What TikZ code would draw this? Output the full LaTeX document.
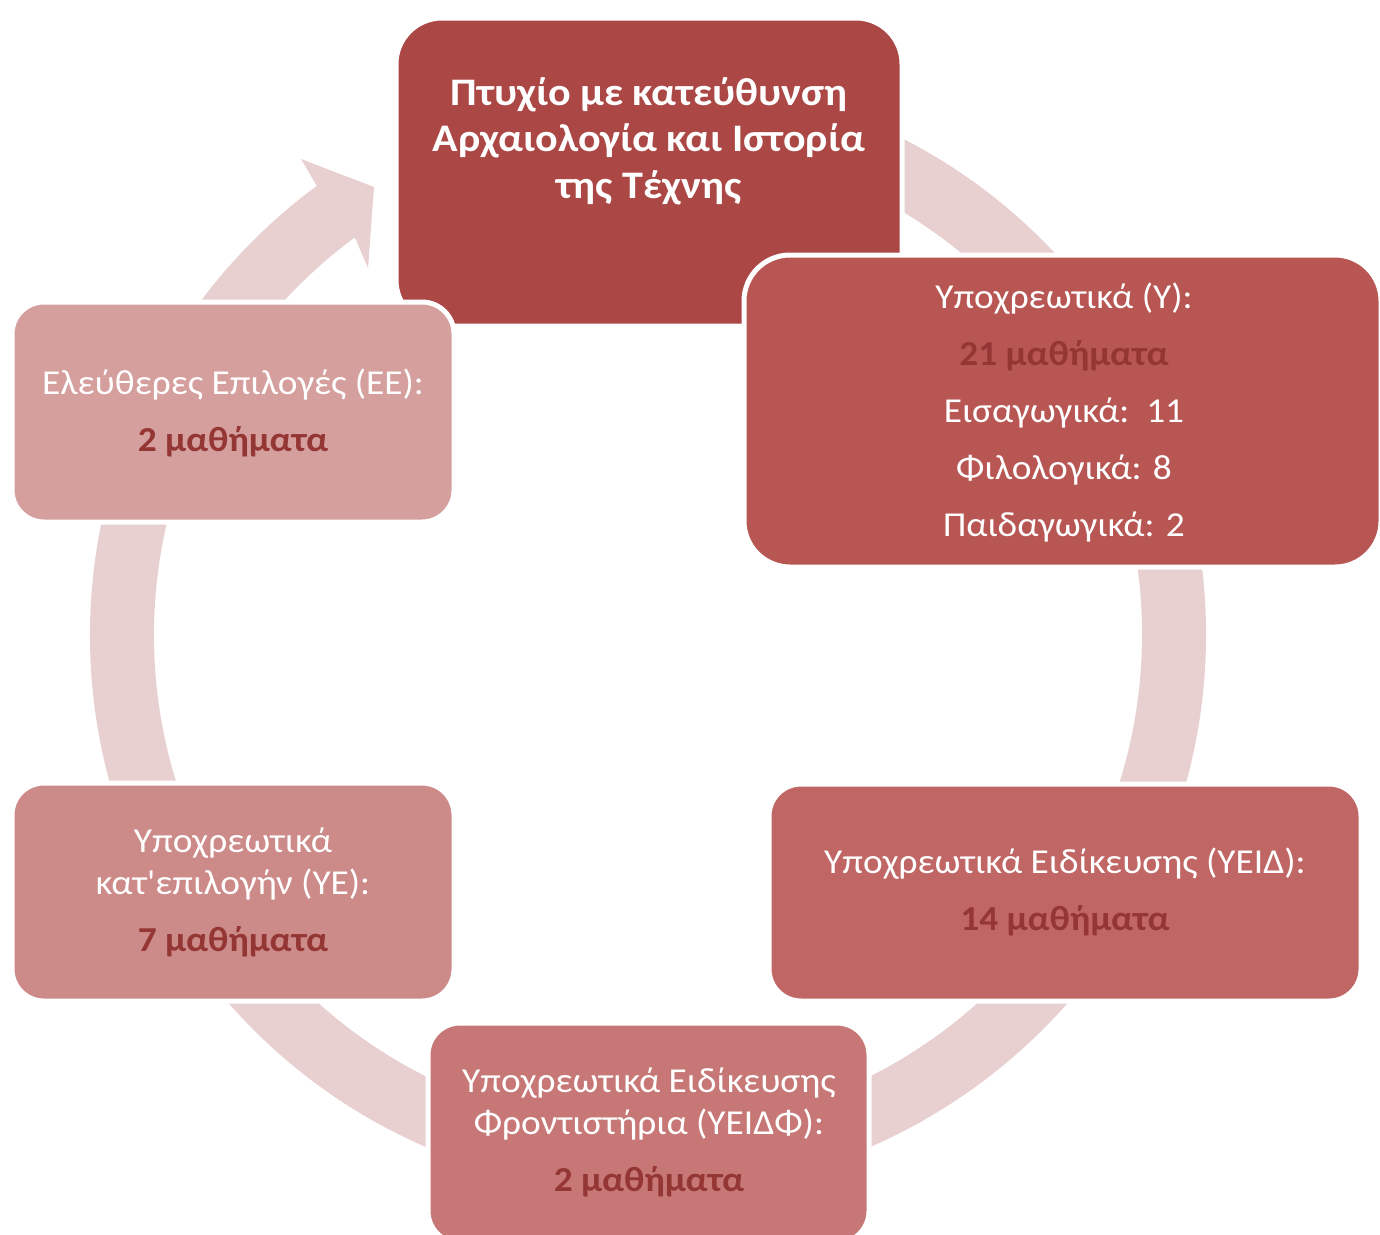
\documentclass[tikz,border=0pt]{standalone}
\usepackage{fontspec}
\usetikzlibrary{calc}
\newfontfamily\carl{Carlito}[FakeStretch=1.067]
\newfontfamily\carlt{Carlito}[FakeStretch=1.08]
\definecolor{cT}{HTML}{AB4744}
\definecolor{cRT}{HTML}{B85653}
\definecolor{cRB}{HTML}{C06765}
\definecolor{cB}{HTML}{C77876}
\definecolor{cLB}{HTML}{CC8A89}
\definecolor{cLT}{HTML}{D59F9E}
\definecolor{cRing}{HTML}{E8D0D1}
\definecolor{cDark}{HTML}{943634}
\begin{document}
\begin{tikzpicture}[x=1pt,y=-1pt,
  box/.style={rectangle, rounded corners=#1, draw=white, line width=5pt, inner sep=0pt},
  txt/.style={text=white, align=center, inner sep=0pt, font=\carl\fontsize{35}{42}\selectfont},
  ttl/.style={text=white, align=center, inner sep=0pt, font=\carlt\bfseries\fontsize{39}{46.5}\selectfont},
  ringarc/.style={draw=cRing, line width=64pt},
  ringhead/.style={fill=cRing}]
\useasboundingbox (0,0) rectangle (1380,1234);
\fill[white] (0,0) rectangle (1380,1234);
% circular arrow
\coordinate (c) at (648,635);
\coordinate (no) at ($(c)+(-126.4:558)$);
\coordinate (ni) at ($(c)+(-126.4:494)$);
\coordinate (bo) at (301,159);
\coordinate (tp) at (374,187);
\coordinate (bi) at (368,268);
\draw[ringarc] ($(c)+(-126:526)$) arc[start angle=-126, end angle=-450, radius=526];
\fill[ringhead] (no) -- (bo) -- (tp) -- (bi) -- (ni) -- cycle;
% boxes
\node[box=46pt, fill=cT, minimum width=506pt, minimum height=308pt] (T) at (649,172) {};
\node[box=46pt, fill=cRT, minimum width=637pt, minimum height=312pt] (RT) at (1062.5,411) {};
\node[box=32pt, fill=cRB, minimum width=592pt, minimum height=217pt] (RB) at (1065,892.5) {};
\node[box=32pt, fill=cB, minimum width=441pt, minimum height=220pt] (B) at (648.5,1133) {};
\node[box=32pt, fill=cLB, minimum width=442pt, minimum height=218pt] (LB) at (233,892) {};
\node[box=32pt, fill=cLT, minimum width=442pt, minimum height=220pt] (LT) at (233,412) {};
% texts
\node[ttl] (Tt) at (649,141) {Πτυχίο με κατεύθυνση\\Αρχαιολογία και Ιστορία\\της Τέχνης};
\node[txt] (RTt) at (1064,413) {Υποχρεωτικά (Υ):\\[15pt]{\bfseries\color{cDark}21 μαθήματα}\\[15pt]Εισαγωγικά:\ \ 11\\[15pt]Φιλολογικά: 8\\[15pt]Παιδαγωγικά: 2};
\node[txt] (RBt) at (1065,892) {Υποχρεωτικά Ειδίκευσης (ΥΕΙΔ):\\[15pt]{\bfseries\color{cDark}14 μαθήματα}};
\node[txt] (Bt) at (649,1132) {Υποχρεωτικά Ειδίκευσης\\Φροντιστήρια (ΥΕΙΔΦ):\\[15pt]{\bfseries\color{cDark}2 μαθήματα}};
\node[txt] (LBt) at (233,892) {Υποχρεωτικά\\κατ'επιλογήν (ΥΕ):\\[15pt]{\bfseries\color{cDark}7 μαθήματα}};
\node[txt] (LTt) at (233,413) {Ελεύθερες Επιλογές (ΕΕ):\\[15pt]{\bfseries\color{cDark}2 μαθήματα}};
\end{tikzpicture}
\end{document}
